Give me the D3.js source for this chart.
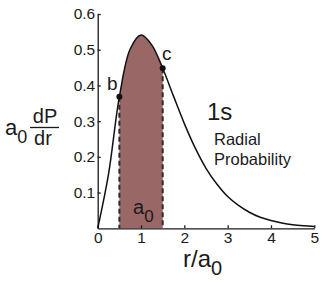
<!DOCTYPE html>
<html>
<head>
<meta charset="utf-8">
<script src="https://cdn.jsdelivr.net/npm/d3@7"></script>
<style>
  body { margin: 0; background: #fff; }
  text { font-family: "Liberation Sans", Arial, Helvetica, sans-serif; fill: #1a1a1a; }
</style>
</head>
<body>
<div id="vis"></div>
<script>
// frame
const FRAME_WIDTH = 323;
const FRAME_HEIGHT = 283;

// data: r/a0 and a0 dP/dr
const R_VALUES = [0, 0.25, 0.5, 0.75, 1, 1.25, 1.5, 1.75, 2, 2.25, 2.5, 2.75, 3,
                  3.25, 3.5, 3.75, 4, 4.25, 4.5, 4.75, 5];
const DP_VALUES = [0, 0.152, 0.368, 0.502, 0.541, 0.513, 0.448, 0.370, 0.293, 0.225, 0.168,
                   0.124, 0.089, 0.064, 0.045, 0.031, 0.022, 0.015, 0.010, 0.007, 0.005];
const X_TICKS = [0, 1, 2, 3, 4, 5];
const Y_TICKS = [0.1, 0.2, 0.3, 0.4, 0.5, 0.6];
const MARKED = [{ r: 0.5, p: 0.368, label: "b" }, { r: 1.5, p: 0.448, label: "c" }];
const SHADE = [0.5, 1.5];

const data = R_VALUES.map((r, i) => ({ r: r, p: DP_VALUES[i] }));

const FRAME = d3.select("#vis")
    .append("svg")
    .attr("width", FRAME_WIDTH)
    .attr("height", FRAME_HEIGHT);

// scales
const X_SCALE = d3.scaleLinear().domain([0, 5]).range([97.7, 314.3]);
const Y_SCALE = d3.scaleLinear().domain([0, 0.6]).range([228.3, 14]);

const line = d3.line()
    .x(d => X_SCALE(d.r))
    .y(d => Y_SCALE(d.p))
    .curve(d3.curveCatmullRom);

const area = d3.area()
    .x(d => X_SCALE(d.r))
    .y0(Y_SCALE(0))
    .y1(d => Y_SCALE(d.p))
    .curve(d3.curveCatmullRom);

// shaded region between b and c
FRAME.append("clipPath").attr("id", "shade")
    .append("rect")
    .attr("x", X_SCALE(SHADE[0]))
    .attr("y", 0)
    .attr("width", X_SCALE(SHADE[1]) - X_SCALE(SHADE[0]))
    .attr("height", FRAME_HEIGHT);

FRAME.append("path")
    .datum(data)
    .attr("d", area)
    .attr("clip-path", "url(#shade)")
    .attr("fill", "#9a6767");

// dashed edges
FRAME.selectAll(".edge")
    .data(MARKED)
    .enter()
    .append("line")
    .attr("x1", d => X_SCALE(d.r))
    .attr("x2", d => X_SCALE(d.r))
    .attr("y1", d => Y_SCALE(d.p))
    .attr("y2", Y_SCALE(0))
    .attr("stroke", "#2a2a2a")
    .attr("stroke-width", 2)
    .attr("stroke-dasharray", "5,3");

// axes
const xAxis = FRAME.append("g")
    .attr("transform", `translate(0,${Y_SCALE(0)})`)
    .call(d3.axisBottom(X_SCALE).tickValues(X_TICKS).tickFormat(d3.format("d"))
        .tickSizeInner(-3).tickSizeOuter(0).tickPadding(3.5));

const yAxis = FRAME.append("g")
    .attr("transform", `translate(${X_SCALE(0)},0)`)
    .call(d3.axisLeft(Y_SCALE).tickValues(Y_TICKS).tickFormat(d3.format(".1f"))
        .tickSizeInner(-3).tickSizeOuter(0).tickPadding(2.5));

[xAxis, yAxis].forEach(g => {
    g.select(".domain").attr("stroke", "#1a1a1a").attr("stroke-width", 1.3);
    g.selectAll(".tick line").attr("stroke", "#1a1a1a").attr("stroke-width", 1.3);
    g.selectAll(".tick text")
        .attr("fill", "#1a1a1a")
        .style("font-family", "'Liberation Sans', Arial, sans-serif")
        .style("font-size", "15.5px");
});

// curve
FRAME.append("path")
    .datum(data)
    .attr("d", line)
    .attr("fill", "none")
    .attr("stroke", "#111")
    .attr("stroke-width", 1.5);

// points b and c
FRAME.selectAll(".pt")
    .data(MARKED)
    .enter()
    .append("circle")
    .attr("cx", d => X_SCALE(d.r))
    .attr("cy", d => Y_SCALE(d.p))
    .attr("r", 3)
    .attr("fill", "#111");

FRAME.append("text").attr("x", 107).attr("y", 90).attr("font-size", 19).text("b");
FRAME.append("text").attr("x", 162).attr("y", 60).attr("font-size", 19).text("c");

// a0 label inside shade
const a0 = FRAME.append("text").attr("x", 133).attr("y", 214).attr("font-size", 20);
a0.append("tspan").text("a");
a0.append("tspan").attr("dy", 8).attr("font-size", 17).text("0");

// y label: a0 dP/dr
const ya = FRAME.append("text").attr("x", 5).attr("y", 135).attr("font-size", 22);
ya.append("tspan").text("a");
ya.append("tspan").attr("dy", 8).attr("font-size", 18).text("0");
FRAME.append("text").attr("x", 45).attr("y", 123).attr("text-anchor", "middle")
    .attr("font-size", 20).text("dP");
FRAME.append("line").attr("x1", 30).attr("x2", 59).attr("y1", 127.5).attr("y2", 127.5)
    .attr("stroke", "#1a1a1a").attr("stroke-width", 1.3);
FRAME.append("text").attr("x", 43).attr("y", 145).attr("text-anchor", "middle")
    .attr("font-size", 20).text("dr");

// x label: r/a0
const xl = FRAME.append("text").attr("x", 183).attr("y", 267).attr("font-size", 24);
xl.append("tspan").text("r/a");
xl.append("tspan").attr("dy", 8).attr("font-size", 20).text("0");

// annotation
FRAME.append("text").attr("x", 207).attr("y", 120).attr("font-size", 24).text("1s");
FRAME.append("text").attr("x", 214).attr("y", 145).attr("font-size", 16.5).text("Radial");
FRAME.append("text").attr("x", 214).attr("y", 165).attr("font-size", 16.5).text("Probability");
</script>
</body>
</html>
